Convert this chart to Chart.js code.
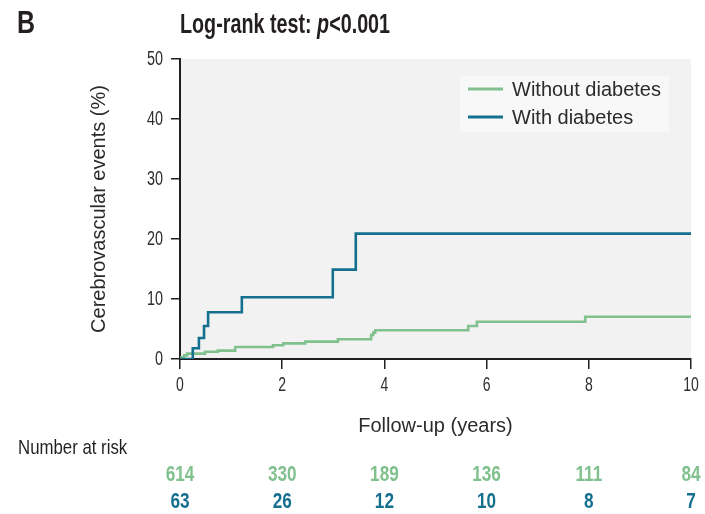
<!DOCTYPE html>
<html>
<head>
<meta charset="utf-8">
<title>Cerebrovascular events by diabetes status</title>
<script src="https://cdn.jsdelivr.net/npm/chart.js@4"></script>
<style>
  html, body { margin: 0; padding: 0; background: #ffffff; }
  #wrap { position: relative; width: 705px; height: 514px; }
</style>
</head>
<body>
<div id="wrap"><canvas id="km" width="705" height="514"></canvas></div>
<script>
// Kaplan-Meier style cumulative incidence (%), follow-up in years
const seriesNames = ['Without diabetes', 'With diabetes'];

const withoutTimes  = [0, 0.03, 0.08, 0.14, 0.49, 0.74, 1.08, 1.82, 2.02, 2.45, 3.09, 3.74, 3.78, 3.82, 5.64, 5.81, 7.93, 10];
const withoutValues = [0, 0.3, 0.6, 0.9, 1.2, 1.4, 2.0, 2.3, 2.6, 2.9, 3.3, 4.0, 4.4, 4.8, 5.5, 6.2, 7.05, 7.05];

const withTimes  = [0, 0.25, 0.37, 0.47, 0.55, 1.21, 2.99, 3.44, 10];
const withValues = [0, 1.8, 3.5, 5.5, 7.8, 10.3, 14.9, 20.9, 20.9];

// Number at risk
const riskTimes   = [0, 2, 4, 6, 8, 10];
const riskWithout = [614, 330, 189, 136, 111, 84];
const riskWith    = [63, 26, 12, 10, 8, 7];

const yTicks = [0, 10, 20, 30, 40, 50];
const xTicks = [0, 2, 4, 6, 8, 10];

const GREEN = '#80c18e';
const BLUE = '#15708f';
const INK = '#231f20';
const SANS = "'Liberation Sans', Arimo, Arial, sans-serif";

const toPoints = (xs, ys) => xs.map((x, i) => ({ x, y: ys[i] }));

// Condensed lettering: a horizontally squeezed sans face
function drawNarrow(ctx, text, x, y, font, sx, align, baseline, color) {
  ctx.save();
  ctx.font = font;
  ctx.fillStyle = color;
  ctx.textAlign = align;
  ctx.textBaseline = baseline;
  ctx.translate(x, y);
  ctx.scale(sx, 1);
  ctx.fillText(text, 0, 0);
  const w = ctx.measureText(text).width * sx;
  ctx.restore();
  return w;
}

// Light grey plot panel behind the curves
const panelPlugin = {
  id: 'panel',
  beforeDraw(chart) {
    const { ctx, chartArea: a } = chart;
    ctx.save();
    ctx.fillStyle = '#ffffff';
    ctx.fillRect(0, 0, chart.width, chart.height);
    ctx.fillStyle = '#f2f2f2';
    ctx.fillRect(a.left, a.top, a.right - a.left, a.bottom - a.top);
    ctx.restore();
  }
};

// Condensed tick labels for both axes
const tickLabelPlugin = {
  id: 'narrowTicks',
  afterDraw(chart) {
    const { ctx } = chart;
    const xs = chart.scales.x, ys = chart.scales.y;
    const font = '20px ' + SANS;
    xTicks.forEach(v => {
      drawNarrow(ctx, String(v), xs.getPixelForValue(v), 385, font, 0.7, 'center', 'middle', '#2e2e2e');
    });
    yTicks.forEach(v => {
      drawNarrow(ctx, String(v), 163, ys.getPixelForValue(v), font, 0.72, 'right', 'middle', '#2e2e2e');
    });
  }
};

// Boxed legend inside the upper right of the plot
const boxLegendPlugin = {
  id: 'boxLegend',
  afterDatasetsDraw(chart) {
    const { ctx } = chart;
    const x0 = 460, y0 = 76, w = 209, h = 56;
    ctx.save();
    ctx.fillStyle = '#f8f8f8';
    ctx.fillRect(x0, y0, w, h);
    ctx.font = '20px ' + SANS;
    ctx.textBaseline = 'middle';
    ctx.textAlign = 'left';
    seriesNames.forEach((name, i) => {
      const ds = chart.data.datasets.find(d => d.label === name);
      const y = 89 + i * 28;
      ctx.strokeStyle = ds.borderColor;
      ctx.lineWidth = 3;
      ctx.beginPath();
      ctx.moveTo(468, y);
      ctx.lineTo(503, y);
      ctx.stroke();
      ctx.fillStyle = '#2b2b2b';
      ctx.fillText(name, 512, y + 1);
    });
    ctx.restore();
  }
};

// Panel letter, test result and number-at-risk table
const textPlugin = {
  id: 'extraText',
  afterDraw(chart) {
    const { ctx } = chart;
    const xs = chart.scales.x;
    drawNarrow(ctx, 'B', 17, 33, 'bold 32px ' + SANS, 0.78, 'left', 'alphabetic', INK);

    let tx = 180;
    const parts = [['Log-rank test: ', 'bold'], ['p', 'italic bold'], ['<0.001', 'bold']];
    parts.forEach(([s, st]) => {
      tx += drawNarrow(ctx, s, tx, 33, st + ' 28px ' + SANS, 0.705, 'left', 'alphabetic', INK);
    });

    drawNarrow(ctx, 'Number at risk', 18, 454, '21px ' + SANS, 0.8, 'left', 'alphabetic', INK);

    riskTimes.forEach((t, i) => {
      const px = xs.getPixelForValue(t);
      drawNarrow(ctx, String(riskWithout[i]), px, 475, 'bold 22px ' + SANS, 0.78, 'center', 'middle', GREEN);
      drawNarrow(ctx, String(riskWith[i]), px, 502, 'bold 22px ' + SANS, 0.78, 'center', 'middle', BLUE);
    });
  }
};

new Chart(document.getElementById('km'), {
  type: 'line',
  data: {
    datasets: [
      {
        label: seriesNames[0],
        data: toPoints(withoutTimes, withoutValues),
        borderColor: GREEN,
        borderWidth: 2.6,
        stepped: 'before',
        pointRadius: 0,
        fill: false,
        order: 1
      },
      {
        label: seriesNames[1],
        data: toPoints(withTimes, withValues),
        borderColor: BLUE,
        borderWidth: 2.6,
        stepped: 'before',
        pointRadius: 0,
        fill: false,
        order: 0
      }
    ]
  },
  options: {
    responsive: false,
    animation: false,
    events: [],
    layout: { padding: { top: 59, right: 14, left: 0, bottom: 0 } },
    plugins: {
      legend: { display: false },
      tooltip: { enabled: false },
      title: { display: false }
    },
    scales: {
      x: {
        type: 'linear',
        min: 0,
        max: 10,
        afterFit(scale) { scale.height = 155; },
        afterBuildTicks(scale) { scale.ticks = xTicks.map(v => ({ value: v })); },
        border: { display: true, color: INK, width: 2 },
        grid: { drawOnChartArea: false, drawTicks: true, tickLength: 10, color: INK, lineWidth: 1.5 },
        ticks: { display: false },
        title: {
          display: true,
          text: 'Follow-up (years)',
          color: '#2b2b2b',
          font: { family: SANS, size: 20 },
          padding: { top: 0, bottom: 76 }
        }
      },
      y: {
        type: 'linear',
        min: 0,
        max: 50,
        afterFit(scale) { scale.width = 180; },
        afterBuildTicks(scale) { scale.ticks = yTicks.map(v => ({ value: v })); },
        border: { display: true, color: INK, width: 2 },
        grid: { drawOnChartArea: false, drawTicks: true, tickLength: 9, color: INK, lineWidth: 1.5 },
        ticks: { display: false },
        title: {
          display: true,
          text: 'Cerebrovascular events (%)',
          color: '#2b2b2b',
          font: { family: SANS, size: 20 },
          padding: { top: 87, bottom: 0 }
        }
      }
    }
  },
  plugins: [panelPlugin, tickLabelPlugin, boxLegendPlugin, textPlugin]
});
</script>
</body>
</html>
